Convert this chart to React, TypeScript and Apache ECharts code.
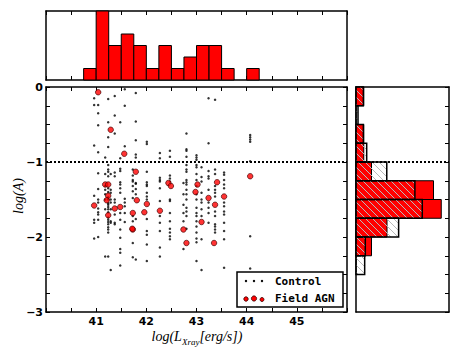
import React, { useEffect, useRef } from "react";
import * as echarts from "echarts";

// ---- data ----
const X_MIN = 40;
const X_MAX = 46;
const Y_MIN = -3;
const Y_MAX = 0;
const BIN = 0.25;
const THRESHOLD = -1;
const TOP_HIST_MAX = 6;
const RIGHT_HIST_MAX = 12;
const X_TICK_LABELS = [41, 42, 43, 44, 45];
const Y_TICK_LABELS = [0, -1, -2, -3];

const AGN_X = [41.04, 41.29, 41.56, 41.79, 42.44, 41.18, 41.24, 41.24, 41.21, 40.96, 41.24, 41.37, 41.48, 41.81, 41.73, 42.01,
  41.96, 41.73, 42.27, 42.49, 43.02, 43.41, 42.98, 43.24, 43.55, 43.37, 43.10, 42.74, 42.80, 43.35, 44.07, 41.72];
const AGN_Y = [-0.07, -0.57, -0.89, -1.13, -1.28, -1.30, -1.30, -1.45, -1.51, -1.58, -1.71, -1.62, -1.60, -1.51, -1.68, -1.56,
  -1.67, -1.90, -1.65, -1.32, -1.30, -1.27, -1.40, -1.48, -1.46, -1.57, -1.80, -1.90, -2.08, -2.08, -1.19, -1.89];

const CONTROL_COL_X = [40.96, 41.04, 41.18, 41.24, 41.29, 41.37, 41.48, 41.57, 41.73, 41.79, 42.01, 42.27, 42.47, 42.74, 42.80,
  43.00, 43.10, 43.24, 43.37, 43.55, 44.07];
const CONTROL_COL_Y = [
  [-0.15, -0.24, -0.78, -1.45, -1.77, -1.81, -2.02],
  [-0.24, -0.35, -0.51, -0.87, -1.15, -1.36, -1.50, -1.54, -1.62, -1.67, -1.70, -1.77, -2.00],
  [-0.94, -1.16, -1.32, -1.37, -1.43, -1.50, -1.63, -2.26],
  [-0.16, -0.47, -0.67, -0.80, -1.04, -1.10, -1.13, -1.19, -1.35, -1.40, -1.47, -1.50, -1.55, -1.57, -1.60, -1.63, -1.67, -1.74,
    -1.77, -1.80, -1.83, -1.87, -1.90, -1.94, -2.26],
  [-1.16, -1.37, -1.41, -1.50, -1.54, -1.63, -1.79, -1.81, -2.44],
  [-0.12, -0.38, -0.62, -1.14, -1.19, -1.50, -1.54, -1.70, -1.81, -1.83],
  [-0.47, -0.95, -1.09, -1.12, -1.27, -1.30, -1.35, -1.41, -1.68, -1.77, -1.90, -2.01, -2.16, -2.21, -2.38],
  [-0.03, -0.25, -0.79, -1.49, -1.54, -1.59, -1.68, -1.80],
  [-1.10, -1.18, -1.24, -1.26, -1.32, -1.39, -1.48, -1.72, -1.79, -2.08, -2.27],
  [-0.08, -0.46, -0.71, -0.90, -0.94, -1.28, -1.29, -1.36, -1.43, -1.76, -2.30],
  [-0.73, -0.76, -1.13, -1.27, -1.30, -1.32, -1.41, -1.46, -1.50, -1.76, -1.92, -1.97, -2.10, -2.32],
  [-0.88, -0.95, -1.21, -1.24, -1.26, -1.35, -1.52, -1.72, -1.81, -1.92, -2.14, -2.26],
  [-0.85, -0.93, -1.18, -1.22, -1.26, -1.50, -1.52, -1.68, -1.79, -1.89, -1.94, -1.99, -2.03],
  [-1.28, -1.43, -1.57, -1.68, -1.79, -2.16],
  [-0.62, -0.83, -0.85, -0.93, -1.04, -1.10, -1.13, -1.24, -1.27, -1.30, -1.37, -1.43, -1.50, -1.61, -1.66, -1.72, -1.89],
  [-0.91, -0.94, -0.97, -1.04, -1.07, -1.16, -1.24, -1.32, -1.43, -1.50, -1.61, -1.68, -1.72, -1.79, -1.86, -1.94, -2.02, -2.07, -2.32],
  [-1.07, -1.20, -1.26, -1.41, -1.50, -1.54, -1.63, -1.72, -2.03, -2.44],
  [-0.15, -0.75, -1.12, -1.19, -1.22, -1.37, -1.54, -1.61, -1.68, -1.81],
  [-0.17, -1.10, -1.16, -1.32, -1.37, -1.41, -1.46, -1.66, -1.72, -1.83, -1.86, -1.90, -1.94],
  [-1.14, -1.17, -1.24, -1.30, -1.35, -1.54, -1.59, -1.66, -1.70, -1.81, -1.92, -2.03, -2.41],
  [-0.64, -0.67, -0.70, -0.73, -0.99, -1.99, -2.42],
];

// control histogram (normalised), bins of 0.25 going down from 0
const CONTROL_HIST = [0.95, 0.26, 0.95, 1.38, 3.97, 7.6, 8.55, 5.5, 1.2, 1.12];

const LEGEND_LABELS = ["Control", "Field AGN"];

function makeHatch() {
  const s = 7;
  const c = document.createElement("canvas");
  c.width = s;
  c.height = s;
  const ctx = c.getContext("2d")!;
  ctx.strokeStyle = "rgb(185,185,185)";
  ctx.lineWidth = 1;
  for (const k of [-1, 0, 1]) {
    ctx.beginPath();
    ctx.moveTo(k * s, 0);
    ctx.lineTo(k * s + s, s);
    ctx.stroke();
  }
  return c;
}

const isInt = (v: number) => Math.abs(v - Math.round(v)) < 1e-6;

export default function App() {
  const ref = useRef<HTMLDivElement>(null);
  useEffect(() => {
    if (!ref.current) return;
    const chart = echarts.init(ref.current, null, { renderer: "svg" });

    const controlData: number[][] = [];
    CONTROL_COL_X.forEach((x, i) => CONTROL_COL_Y[i].forEach((y) => controlData.push([x, y])));
    const agnData = AGN_X.map((x, i) => [x, AGN_Y[i]]);

    // top histogram of AGN x
    const nx = Math.round((X_MAX - X_MIN) / BIN);
    const xCounts = new Array(nx).fill(0);
    AGN_X.forEach((x) => xCounts[Math.floor((x - X_MIN) / BIN + 1e-9)]++);
    const topData = xCounts
      .map((c, i) => [X_MIN + i * BIN, X_MIN + (i + 1) * BIN, c])
      .filter((d) => d[2] > 0);

    // right histogram of AGN y
    const ny = Math.round((Y_MAX - Y_MIN) / BIN);
    const yCounts = new Array(ny).fill(0);
    AGN_Y.forEach((y) => yCounts[Math.floor((Y_MAX - y) / BIN + 1e-9)]++);
    const rightAgn = yCounts
      .map((c, i) => [Y_MAX - i * BIN, Y_MAX - (i + 1) * BIN, c])
      .filter((d) => d[2] > 0);
    const rightCtrl = CONTROL_HIST.map((c, i) => [Y_MAX - i * BIN, Y_MAX - (i + 1) * BIN, c]);

    const hatch = makeHatch();

    const line = { show: true, onZero: false, lineStyle: { color: "#000", width: 1.5 } };
    const tickIn = { show: true, inside: true, length: 4, lineStyle: { color: "#000", width: 1 } };
    const labelFont = { color: "#000", fontFamily: "DejaVu Sans", fontWeight: "bold", fontSize: 11 };

    const xBase = (grid: number, pos: string, ticks: boolean, min = X_MIN, max = X_MAX, interval = 0.5) => ({
      type: "value", gridIndex: grid, position: pos, min, max, interval,
      axisLine: line, splitLine: { show: false },
      axisTick: ticks ? tickIn : { show: false },
      axisLabel: { show: false },
    });
    const yBase = (grid: number, pos: string, ticks: boolean, min = Y_MIN, max = Y_MAX, interval = 0.25) => ({
      type: "value", gridIndex: grid, position: pos, min, max, interval,
      axisLine: line, splitLine: { show: false },
      axisTick: ticks ? tickIn : { show: false },
      axisLabel: { show: false },
    });

    const xMainBottom: any = xBase(0, "bottom", true);
    xMainBottom.axisLabel = {
      show: true, margin: 4, ...labelFont,
      formatter: (v: number) => (X_TICK_LABELS.some((t) => Math.abs(t - v) < 1e-6) ? String(Math.round(v)) : ""),
    };
    const yMainLeft: any = yBase(0, "left", true);
    yMainLeft.axisLabel = {
      show: true, margin: 3, ...labelFont,
      formatter: (v: number) => {
        if (!isInt(v) || !Y_TICK_LABELS.some((t) => Math.abs(t - v) < 1e-6)) return "";
        const r = Math.round(v);
        return r === 0 ? "0" : "\u2212" + Math.abs(r);
      },
    };

    const rectHistX = (params: any, api: any) => {
      const p0 = api.coord([api.value(0), api.value(2)]);
      const p1 = api.coord([api.value(1), 0]);
      return {
        type: "rect",
        shape: { x: p0[0], y: p0[1], width: p1[0] - p0[0], height: p1[1] - p0[1] },
        style: { fill: "#ff0000", stroke: "#000", lineWidth: 1 },
      };
    };
    const rectHistY = (fill: any, lw: number) => (params: any, api: any) => {
      const pTop = api.coord([api.value(2), api.value(0)]);
      const pBot = api.coord([0, api.value(1)]);
      return {
        type: "rect",
        shape: { x: pBot[0], y: pTop[1], width: pTop[0] - pBot[0], height: pBot[1] - pTop[1] },
        style: { fill, stroke: "#000", lineWidth: lw },
      };
    };

    const dotted = { color: "#000", width: 2, type: [2, 2] };
    const serif = "Liberation Serif";

    chart.setOption({
      animation: false,
      backgroundColor: "#fff",
      grid: [
        { left: 46, top: 87, width: 301, height: 225, outerBoundsMode: "none", containLabel: false },
        { left: 46, top: 11, width: 301, height: 69, outerBoundsMode: "none", containLabel: false },
        { left: 356, top: 87, width: 93, height: 225, outerBoundsMode: "none", containLabel: false },
      ],
      xAxis: [
        xMainBottom,
        xBase(0, "top", true),
        xBase(1, "bottom", true),
        xBase(1, "top", true),
        xBase(2, "bottom", false, 0, RIGHT_HIST_MAX, 2),
        xBase(2, "top", false, 0, RIGHT_HIST_MAX, 2),
      ],
      yAxis: [
        yMainLeft,
        yBase(0, "right", true),
        yBase(1, "left", false, 0, TOP_HIST_MAX, 1),
        yBase(1, "right", false, 0, TOP_HIST_MAX, 1),
        yBase(2, "left", false),
        yBase(2, "right", true),
      ],
      series: [
        {
          type: "scatter", name: "Control", xAxisIndex: 0, yAxisIndex: 0, data: controlData,
          symbolSize: 2.5, itemStyle: { color: "#000" }, z: 2,
        },
        {
          type: "line", xAxisIndex: 0, yAxisIndex: 0, data: [[X_MIN, THRESHOLD], [X_MAX, THRESHOLD]],
          showSymbol: false, symbol: "none", lineStyle: dotted, z: 3, silent: true,
        },
        {
          type: "scatter", name: "Field AGN", xAxisIndex: 0, yAxisIndex: 0, data: agnData,
          symbolSize: 5.5, itemStyle: { color: "#ff0000", borderColor: "#300", borderWidth: 0.8 }, z: 4,
        },
        {
          type: "custom", xAxisIndex: 2, yAxisIndex: 2, data: topData,
          encode: { x: [0, 1], y: 2 }, renderItem: rectHistX,
        },
        {
          type: "custom", xAxisIndex: 4, yAxisIndex: 4, data: rightAgn,
          encode: { x: 2, y: [0, 1] }, renderItem: rectHistY("#ff0000", 1), z: 2,
        },
        {
          type: "custom", xAxisIndex: 4, yAxisIndex: 4, data: rightCtrl,
          encode: { x: 2, y: [0, 1] }, renderItem: rectHistY({ image: hatch, repeat: "repeat" }, 1.5), z: 3,
        },
        {
          type: "line", xAxisIndex: 4, yAxisIndex: 4, data: [[0, THRESHOLD], [RIGHT_HIST_MAX, THRESHOLD]],
          showSymbol: false, symbol: "none", lineStyle: dotted, z: 4, silent: true,
        },
      ],
      graphic: [
        {
          type: "text", x: 18, y: 196, rotation: Math.PI / 2, z: 100,
          style: { text: "log(A)", font: `italic 14px "${serif}"`, fill: "#000", align: "center", verticalAlign: "middle" },
        },
        {
          type: "text", x: 197, y: 336, z: 100,
          style: {
            text: "{a|log(L}{b|Xray}{a|[erg/s])}",
            align: "center", verticalAlign: "middle", fill: "#000",
            rich: {
              a: { fontFamily: serif, fontStyle: "italic", fontSize: 14, lineHeight: 20, verticalAlign: "middle" },
              b: { fontFamily: serif, fontStyle: "italic", fontSize: 9, lineHeight: 10, verticalAlign: "bottom" },
            },
          },
        },
        {
          type: "group", z: 100,
          children: [
            { type: "rect", shape: { x: 237, y: 272, width: 106, height: 35 }, style: { fill: "#fff", stroke: "#000", lineWidth: 1.5 } },
            { type: "circle", shape: { cx: 246, cy: 281, r: 1.2 }, style: { fill: "#000" } },
            { type: "circle", shape: { cx: 254, cy: 281, r: 1.2 }, style: { fill: "#000" } },
            { type: "circle", shape: { cx: 262, cy: 281, r: 1.2 }, style: { fill: "#000" } },
            { type: "circle", shape: { cx: 246, cy: 299, r: 2.2 }, style: { fill: "#ff0000", stroke: "#300", lineWidth: 0.8 } },
            { type: "circle", shape: { cx: 254, cy: 298.5, r: 2.6 }, style: { fill: "#ff0000", stroke: "#300", lineWidth: 0.8 } },
            { type: "circle", shape: { cx: 262, cy: 299.5, r: 2.0 }, style: { fill: "#ff0000", stroke: "#300", lineWidth: 0.8 } },
            {
              type: "text", x: 275, y: 281,
              style: { text: LEGEND_LABELS[0], font: 'bold 11px "DejaVu Sans Mono"', fill: "#000", verticalAlign: "middle" },
            },
            {
              type: "text", x: 275, y: 298.5,
              style: { text: LEGEND_LABELS[1], font: 'bold 11px "DejaVu Sans Mono"', fill: "#000", verticalAlign: "middle" },
            },
          ],
        },
      ],
    });
    return () => chart.dispose();
  }, []);
  return <div ref={ref} style={{ position: "fixed", left: 0, top: 0, width: 463, height: 348 }} />;
}
